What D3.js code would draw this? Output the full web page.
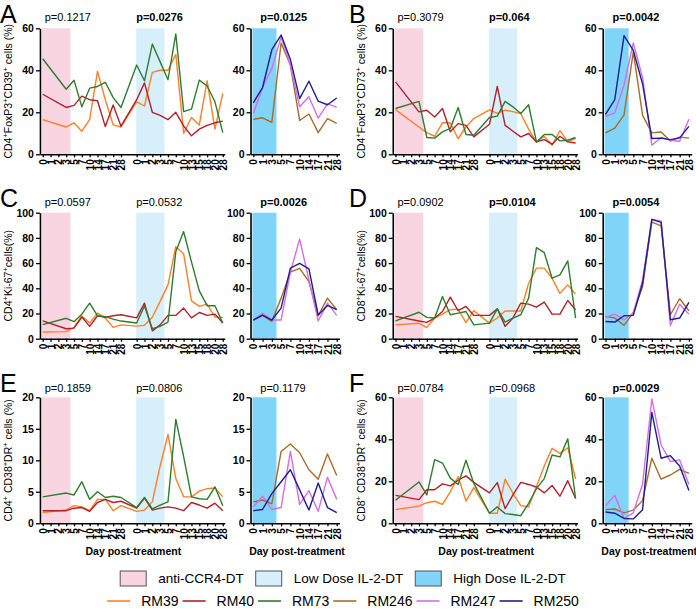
<!DOCTYPE html>
<html><head><meta charset="utf-8">
<script src="https://cdn.jsdelivr.net/npm/d3@7"></script>
<style>
body{margin:0;background:#fff;}
text{font-family:Arial,"Liberation Sans",sans-serif;}
</style></head>
<body>
<script>
// ---------- categories ----------
const daysCCR4 = ["0","1","2","3","5","7","10","14","17","21","28"];
const daysLowIL2 = ["0","1","2","3","5","7","10","13","15","18","20","28"];
const daysHighIL2 = ["0","1","3","5","7","10","14","17","21","28"];
const leftMonkeys = ["RM39","RM40","RM73"];
const rightMonkeys = ["RM246","RM247","RM250"];
const monkeyColors = ["#ff7f27","#b3202a","#2e7d2e","#a86c2a","#d46ee8","#1e1e90"];
const bandLabels = ["anti-CCR4-DT","Low Dose IL-2-DT","High Dose IL-2-DT"];
const bandColors = ["#f9d5e2","#d7effb","#80d4f8"];

// ---------- p-values ----------
const pValues = [
  ["p=0.1217","p=0.0276","p=0.0125"],
  ["p=0.3079","p=0.064","p=0.0042"],
  ["p=0.0597","p=0.0532","p=0.0026"],
  ["p=0.0902","p=0.0104","p=0.0054"],
  ["p=0.1859","p=0.0806","p=0.1179"],
  ["p=0.0784","p=0.0968","p=0.0029"]
];
const pBold = [
  [false,true,true],[false,true,true],[false,false,true],
  [false,true,true],[false,false,false],[false,false,true]
];
// ---------- y ticks ----------
const yTicks60 = [0,20,40,60];
const yTicks100 = [0,20,40,60,80,100];
const yTicks20 = [0,5,10,15,20];

// ---------- Panel A: CD4+FoxP3+CD39+ ----------
const A_RM39 = [16.5,null,null,13,15,11,16.5,39.5,26,14,13, 25,23,39,40,40,47.5,10,17.5,14,35,12,29];
const A_RM40 = [28.6,null,null,22.3,23.3,27.7,26,25.5,13.2,23.5,13.4, 26,34,20,18.5,16.5,20,13.5,8.8,12,13.8,15,15.8];
const A_RM73 = [45.5,null,null,31,35.3,22.6,31.5,32.3,34.3,27,22.3, 42.5,35,52.5,44,35.5,57.3,20.3,21.5,35.3,32.5,25,10.3];
const A_RM246 = [16.6,17.4,15.2,53,42.5,16.1,19.2,10.3,17,14.7];
const A_RM247 = [19.4,31.8,40.9,55.8,42.5,22.6,27.4,17.2,24,22.5];
const A_RM250 = [24.5,31.8,49.8,56.8,45.2,26.5,34.8,25.3,23.6,26.8];
// ---------- Panel B: CD4+FoxP3+CD73+ ----------
const B_RM39 = [21.3,null,null,13,10.3,8.6,15,15,7.4,13,17, 21.2,19.5,21,20.3,19.4,12,5.8,8.5,4.3,11.3,6,7.5];
const B_RM40 = [34.5,null,null,20.2,21,17.8,21.8,10.7,14.6,13.8,8.3, 14.3,32.3,13.8,11,8.3,9.9,5.9,7,4.8,8.6,5.9,5.4];
const B_RM73 = [21.8,null,null,25.2,8,7.7,10.7,12.3,22.3,9.4,9.1, 17.5,18.2,25.2,22.6,19.4,23.6,5.9,9.4,9.4,6.4,6.7,8];
const B_RM246 = [10.2,12.5,18.8,48.8,18.5,10.2,10.6,6.3,8.2,7.7];
const B_RM247 = [18,19.7,33,53,36.5,4.3,8,6.7,6.2,16.7];
const B_RM250 = [19,26,56.5,49.5,33.5,7.5,7.7,7,7.8,13.3];
// ---------- Panel C: CD4+Ki-67+ ----------
const C_RM39 = [5.3,null,null,5.6,9,18,12.4,20.3,16.4,9,11, 10,10.6,17,29.6,42.7,73,67.5,30,25.6,27.4,17.2,16.9];
const C_RM40 = [14.2,null,null,7.9,8.4,17.2,9.8,18.2,16.9,18.2,19, 16.5,28.2,6.2,11,18.5,18.5,24.3,16.5,20.8,18.5,19.5,12.4];
const C_RM73 = [11.2,null,null,16.2,13.5,19.5,28.2,18.2,17.5,15.5,14, 12.5,26,8,9.8,13.2,69,85,61,38,26.2,26.2,12.4];
const C_RM246 = [14.8,18.5,13.7,32.2,52.8,55.8,45.4,18.2,32.2,23];
const C_RM247 = [14.8,20.2,14.8,14.8,52.8,79,46.7,14.2,28.2,18.5];
const C_RM250 = [14.8,18.8,14.8,24.3,56,59.7,55.5,18.8,26.4,23];
// ---------- Panel D: CD8+Ki-67+ ----------
const D_RM39 = [11,null,null,12.3,8.8,16.4,19.5,23,23.5,12.8,22.2, 12.4,16.4,22,22,22,44,56,56,48,36,42.7,35.4];
const D_RM40 = [17.7,null,null,14,13,16.4,21.6,33,22.2,25.6,18.5, 18.5,23.7,9.8,16.4,28.2,27.4,25,29,19.5,19.5,30.3,23];
const D_RM73 = [14.2,null,null,21,16.9,16.4,33.5,19,20.3,21.6,11, 12.4,23.7,13.2,16.4,19,32.2,72.3,68.3,48,50.7,61.7,16.4];
const D_RM246 = [17.7,16.4,10.6,20.8,41.4,92.5,89.5,19,31.7,22.2];
const D_RM247 = [16.9,19.5,15,20.3,46.7,94.7,93.4,10.5,27.4,19.5];
const D_RM250 = [13.7,13.2,18.2,18.5,44,94.7,92.3,15,16.4,28.8];
// ---------- Panel E: CD4+CD38+DR+ ----------
const E_RM39 = [1.7,null,null,2.1,2.8,2.6,2,3.8,3.8,2,2.8, 1.9,2.1,3.4,9.1,14.1,7.1,4.2,4.2,5.1,5.5,5.6,4.2];
const E_RM40 = [2,null,null,2,2.4,2.5,1.9,3.3,3.8,3.3,3.5, 2.4,4,2.1,2.4,2.6,2.4,2,3.3,2.9,2.4,3.2,2];
const E_RM73 = [4.2,null,null,4.8,4.5,6.6,3.8,5,4.1,4.3,4.1, 2.5,4.1,2.3,2.9,3.4,16.5,10.6,4.2,3.9,3.8,5.8,2.8];
const E_RM246 = [3.4,3.7,3.1,11.4,12.6,11.2,8.5,7,11,7.6];
const E_RM247 = [2.6,4.3,2.2,2.5,11.4,3,5.2,1.9,7.3,3.8];
const E_RM250 = [2,2.2,4.7,6.6,8.5,5.3,2.1,6.4,2.5,1.7];
// ---------- Panel F: CD8+CD38+DR+ ----------
const F_RM39 = [6.5,null,null,8.2,9.8,10.5,9,15,22.2,10.6,17, 4.8,4.8,21,14.3,8.4,7.9,17.5,27.3,35.7,33.3,36,21.1];
const F_RM40 = [13.3,null,null,11.3,16,16,18.8,17.8,20.5,22.6,19.5, 14.5,19.4,7,13.5,19.5,18.5,17.3,14.5,18,12.9,20.3,11.8];
const F_RM73 = [11,null,null,19.7,13.5,30.3,28.7,21.5,18.5,30,19, 4.8,7.8,4.6,4.2,3.6,9.5,16.5,21.3,32.5,31.6,40.2,11.8];
const F_RM246 = [6.5,6.8,5,6.3,10.8,31,21,23,25.7,23.8];
const F_RM247 = [8.4,13.3,2.4,5,18.7,59.2,37.3,29.4,30.2,18.5];
const F_RM250 = [5.4,4.8,2.3,2.1,6.5,52.8,31,32.2,27.3,15.6];

const panels = [
  {letter:"A", title:[["CD4"],["+",1],["FoxP3"],["+",1],["CD39"],["+",1],[" cells (%)"]], yMax:60, ticks:yTicks60,
   left:[A_RM39,A_RM40,A_RM73], right:[A_RM246,A_RM247,A_RM250]},
  {letter:"B", title:[["CD4"],["+",1],["FoxP3"],["+",1],["CD73"],["+",1],[" cells (%)"]], yMax:60, ticks:yTicks60,
   left:[B_RM39,B_RM40,B_RM73], right:[B_RM246,B_RM247,B_RM250]},
  {letter:"C", title:[["CD4"],["+",1],["Ki-67"],["+",1],["cells(%)"]], yMax:100, ticks:yTicks100,
   left:[C_RM39,C_RM40,C_RM73], right:[C_RM246,C_RM247,C_RM250]},
  {letter:"D", title:[["CD8"],["+",1],["Ki-67"],["+",1],["cells(%)"]], yMax:100, ticks:yTicks100,
   left:[D_RM39,D_RM40,D_RM73], right:[D_RM246,D_RM247,D_RM250]},
  {letter:"E", title:[["CD4"],["+",1],[" CD38"],["+",1],["DR"],["+",1],[" cells (%)"]], yMax:20, ticks:yTicks20,
   left:[E_RM39,E_RM40,E_RM73], right:[E_RM246,E_RM247,E_RM250]},
  {letter:"F", title:[["CD8"],["+",1],[" CD38"],["+",1],["DR"],["+",1],[" cells (%)"]], yMax:60, ticks:yTicks60,
   left:[F_RM39,F_RM40,F_RM73], right:[F_RM246,F_RM247,F_RM250]}
];

// ---------- layout ----------
const W = 696, H = 610;
const rowTop = [28.3, 212.7, 397.3], plotH = 126;
const pBase = [21, 205.5, 392];
const leftX0 = [42.7, 395.5], rightX0 = [253.3, 605.5];
const stepL = 7.83, stepR = 9.27;

const svg = d3.select("body").append("svg").attr("width", W).attr("height", H);

// left-chart index of each category (gap of one slot between treatments)
const leftCats = daysCCR4.map((d,i)=>({label:d, pos:i, seg:0}))
  .concat(daysLowIL2.map((d,i)=>({label:d, pos:i + daysCCR4.length + 1, seg:1})));
const rightCats = daysHighIL2.map((d,i)=>({label:d, pos:i}));

function styleAxis(g){
  g.select(".domain").attr("stroke","#000").attr("stroke-width",1.6);
  g.selectAll(".tick line").attr("stroke","#000").attr("stroke-width",1.3);
  g.selectAll(".tick text").attr("fill","#000").attr("font-weight","bold")
    .style("font-family","Arial,'Liberation Sans',sans-serif");
}

panels.forEach((P, k) => {
  const col = k % 2, row = Math.floor(k / 2);
  const top = rowTop[row], bottom = top + plotH;
  const x0 = leftX0[col], r0 = rightX0[col];
  const xL = d3.scaleLinear().domain([-0.35, 23.25]).range([x0 - 0.35*stepL, x0 + 23.25*stepL]);
  const xR = d3.scaleLinear().domain([-0.3, 9.3]).range([r0 - 0.3*stepR, r0 + 9.3*stepR]);
  const y = d3.scaleLinear().domain([0, P.yMax]).range([bottom, top]);
  const g = svg.append("g");

  // treatment bands
  g.append("rect").attr("x", xL(-0.1)).attr("y", top).attr("width", xL(3.55)-xL(-0.1)).attr("height", plotH).attr("fill", bandColors[0]);
  g.append("rect").attr("x", xL(11.95)).attr("y", top).attr("width", xL(15.55)-xL(11.95)).attr("height", plotH).attr("fill", bandColors[1]);
  g.append("rect").attr("x", xR(-0.1)).attr("y", top).attr("width", xR(2.5)-xR(-0.1)).attr("height", plotH).attr("fill", bandColors[2]);

  // lines
  P.left.forEach((vals, m) => {
    const pts = vals.map((v,i)=>({x:leftCats[i].pos, v})).filter(d=>d.v!=null);
    g.append("path").datum(pts)
      .attr("d", d3.line().x(d=>xL(d.x)).y(d=>y(d.v)))
      .attr("fill","none").attr("stroke", monkeyColors[m]).attr("stroke-width",1.4).attr("stroke-linejoin","round");
  });
  P.right.forEach((vals, m) => {
    const pts = vals.map((v,i)=>({x:rightCats[i].pos, v})).filter(d=>d.v!=null);
    g.append("path").datum(pts)
      .attr("d", d3.line().x(d=>xR(d.x)).y(d=>y(d.v)))
      .attr("fill","none").attr("stroke", monkeyColors[m+3]).attr("stroke-width",1.4).attr("stroke-linejoin","round");
  });

  // axes
  [xL, xR].forEach((xs, j) => {
    const cats = j === 0 ? leftCats : rightCats;
    const ya = g.append("g").attr("transform", `translate(${xs.range()[0]},0)`)
      .call(d3.axisLeft(y).tickValues(P.ticks).tickSize(4).tickSizeOuter(0).tickPadding(2));
    ya.selectAll(".tick text").attr("font-size", 10.5);
    styleAxis(ya);
    const xa = g.append("g").attr("transform", `translate(0,${bottom})`)
      .call(d3.axisBottom(xs).tickValues(cats.map(c=>c.pos))
        .tickFormat((d,i)=>cats[i].label).tickSize(3).tickSizeOuter(0));
    xa.selectAll(".tick text").attr("font-size", 10)
      .attr("transform","rotate(-90)").attr("text-anchor","end")
      .attr("x",-5).attr("y",0).attr("dy","0.36em");
    styleAxis(xa);
  });

  // y title
  const t = g.append("text").attr("font-size", 10.5).attr("text-anchor","middle")
    .attr("transform", `translate(${xL.range()[0]-28},${(top+bottom)/2}) rotate(-90)`);
  let sup = false;
  P.title.forEach(seg => {
    const s = t.append("tspan").text(seg[0]);
    if (seg[1]) { s.attr("font-size", 7.5).attr("dy", -4); sup = true; }
    else if (sup) { s.attr("dy", 4); sup = false; }
  });

  // letter
  svg.append("text").attr("x", col ? 349 : 0).attr("y", top - 5.5).attr("font-size", 25).text(P.letter);

  // p-values
  const px = [xL(0)+2, xL(12)-0.5, xR(0)+7];
  px.forEach((xx, j) => {
    g.append("text").attr("x", xx).attr("y", pBase[row]).attr("font-size", 11)
      .attr("font-weight", pBold[k][j] ? "bold" : "normal").text(pValues[k][j]);
  });

  if (row === 2) {
    [xL, xR].forEach((xs, j) => {
      const r = xs.range();
      g.append("text").attr("x", (r[0]+r[1])/2 + (j ? 2 : 1)).attr("y", 554.5).attr("text-anchor","middle")
        .attr("font-size", 10.5).attr("font-weight","bold").text("Day post-treatment");
    });
  }
});

// ---------- legend ----------
const cx = 343;
// row 1: bands
{
  const g = svg.append("g");
  let x = 0;
  bandLabels.forEach((lab, i) => {
    g.append("rect").attr("x", x).attr("y", 571).attr("width", 26).attr("height", 15)
      .attr("fill", bandColors[i]).attr("stroke", "#555").attr("stroke-width", 1);
    const tx = g.append("text").attr("x", x + 38).attr("y", 583).attr("font-size", 13.5).text(lab);
    x += 38 + tx.node().getComputedTextLength() + 12;
  });
  const w = x - 12;
  g.attr("transform", `translate(${cx - w/2},0)`);
}
// row 2: monkeys
{
  const g = svg.append("g");
  const names = leftMonkeys.concat(rightMonkeys);
  let x = 0;
  names.forEach((n, i) => {
    g.append("line").attr("x1", x).attr("x2", x + 23).attr("y1", 601).attr("y2", 601)
      .attr("stroke", monkeyColors[i]).attr("stroke-width", 1.6);
    const tx = g.append("text").attr("x", x + 34).attr("y", 606).attr("font-size", 14).text(n);
    x += 34 + tx.node().getComputedTextLength() + 4;
  });
  const w = x - 4;
  g.attr("transform", `translate(${cx - w/2},0)`);
}
</script>
</body></html>
